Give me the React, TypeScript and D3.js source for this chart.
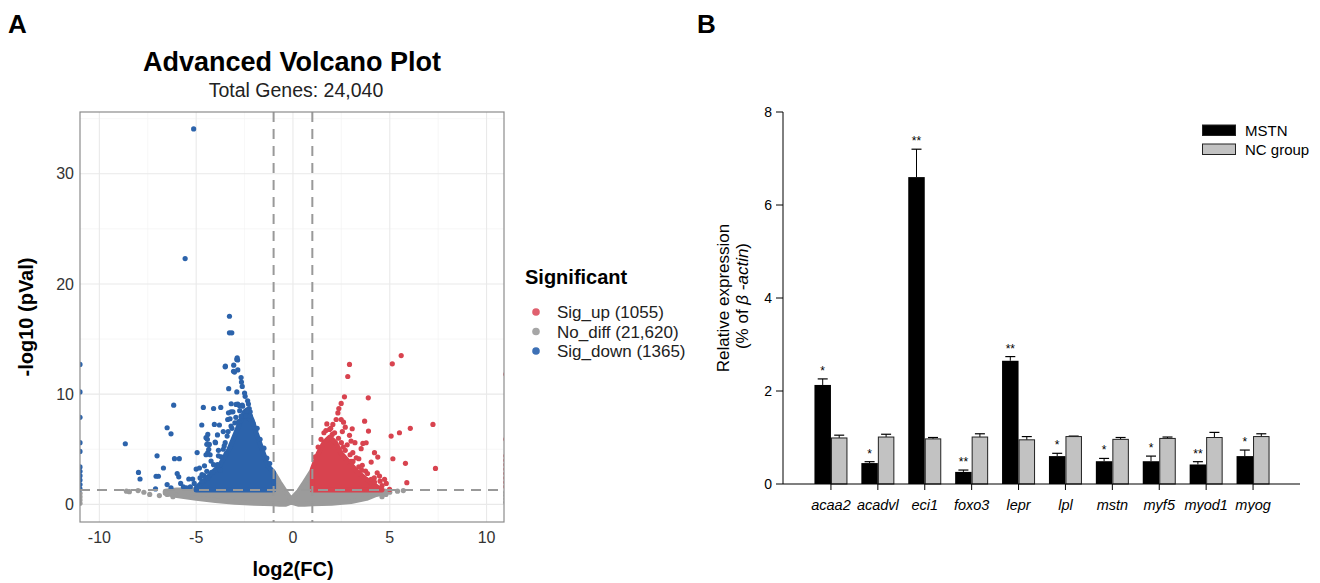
import React, { useRef, useEffect } from "react";
import * as d3 from "d3";

const FONT = "'Liberation Sans', Arial, Helvetica, sans-serif";

// ---------- panel A: volcano ----------
const volcanoXTicks = [-10, -5, 0, 5, 10];
const volcanoXMinor = [-7.5, -2.5, 2.5, 7.5];
const volcanoYTicks = [0, 10, 20, 30];
const volcanoYMinor = [5, 15, 25, 35];
const fcCut = 1;
const pCut = 1.3;
const legendLabels = ["Sig_up (1055)", "No_diff (21,620)", "Sig_down (1365)"];

// dense cores: x, lower, upper (-log10 p)
const grayBandX = [-6.6, -6.0, -5.0, -4.0, -3.0, -2.0, -1.0, -1.0, -0.7, -0.4, -0.1, 0.3, 0.6, 1.0, 1.0, 2.0, 3.0, 3.8, 4.3, 4.8];
const grayBandLow = [1.0, 0.8, 0.55, 0.35, 0.2, 0.1, 0.05, 0.05, 0.0, 0.0, 0.2, 0.0, 0.0, 0.05, 0.05, 0.1, 0.25, 0.55, 0.9, 1.1];
const grayBandHigh = [1.2, 1.3, 1.3, 1.3, 1.3, 1.3, 1.3, 2.9, 2.0, 1.2, 0.45, 1.2, 2.0, 3.1, 1.3, 1.3, 1.3, 1.3, 1.3, 1.2];

const downCoreX = [-5.0, -4.5, -3.8, -3.3, -2.95, -2.7, -2.5, -2.35, -2.1, -1.9, -1.6, -1.3, -1.0];
const downCoreHigh = [1.5, 2.3, 3.5, 5.0, 6.5, 7.6, 8.4, 8.6, 7.6, 6.5, 5.0, 3.5, 2.9];

const upCoreX = [1.0, 1.3, 1.6, 1.9, 2.2, 2.5, 2.9, 3.3, 3.7, 4.1, 4.4, 4.6];
const upCoreHigh = [3.2, 4.6, 5.6, 6.1, 5.6, 4.6, 3.8, 3.0, 2.4, 1.9, 1.5, 1.3];

const sigDownPoints: [number, number][] = [
  [-5.13, 34.06], [-5.57, 22.3], [-3.28, 17.07], [-3.28, 15.56], [-3.16, 15.56],
  [-2.88, 13.3], [-2.86, 13.1], [-3.49, 12.54], [-3.06, 12.63], [-3.07, 12.08],
  [-2.85, 12.2], [-2.68, 11.5], [-2.66, 11.1], [-2.62, 10.7], [-3.32, 10.5],
  [-2.9, 10.2], [-2.5, 10.1], [-2.47, 9.8], [-6.16, 9.0], [-4.63, 8.8],
  [-4.1, 8.7], [-3.73, 8.8], [-2.85, 9.1], [-2.62, 9.0], [-2.34, 9.4],
  [-2.3, 9.1], [-2.26, 8.7], [-2.21, 8.4], [-3.2, 8.4], [-3.1, 8.4],
  [-2.68, 8.0], [-6.5, 6.95], [-6.3, 6.4], [-8.66, 5.5], [-4.71, 7.2],
  [-4.06, 7.25], [-3.8, 7.2], [-3.37, 7.7], [-3.33, 8.31], [-3.25, 7.77],
  [-4.49, 6.05], [-4.42, 5.9], [-4.45, 5.45], [-4.02, 5.65], [-4.95, 4.7],
  [-4.49, 4.5], [-4.28, 4.5], [-7.98, 2.9], [-7.9, 2.3], [-7.02, 4.4],
  [-6.69, 3.3], [-7.07, 2.55], [-6.95, 2.55], [-6.12, 4.15], [-5.87, 4.15],
  [-7.1, 1.4], [-5.98, 2.8], [-5.9, 2.5], [-5.8, 1.9], [-5.66, 1.6],
  [-5.38, 2.3], [-5.18, 2.3], [-5.0, 3.2], [-4.83, 3.3], [-4.57, 3.5],
  [-4.0, 5.59], [-4.23, 3.93], [-4.4, 4.69], [-4.35, 4.99], [-4.32, 5.44],
  [-4.4, 6.35], [-3.5, 12.48], [-3.02, 12.0], [-2.9, 13.15], [-3.19, 9.13],
  [-2.94, 9.07], [-2.77, 8.97], [-2.39, 8.46], [-2.42, 8.0], [-2.25, 7.7],
  [-5.3, 1.6], [-5.1, 1.9], [-4.9, 1.5], [-4.7, 2.1], [-4.6, 2.6],
  [-4.8, 2.4], [-5.5, 1.5], [-6.3, 1.5], [-6.5, 1.8], [-3.9, 3.6],
  [-3.7, 4.3], [-3.6, 5.0], [-3.5, 5.6], [-3.4, 6.2], [-3.6, 6.6],
  [-3.9, 6.3], [-3.2, 7.1], [-3.0, 7.4], [-2.8, 7.5], [-4.2, 2.9],
  [-4.4, 2.4], [-3.85, 4.9], [-3.45, 4.6], [-3.75, 3.1],
  [-2.6, 8.9], [-2.75, 8.5], [-2.95, 7.9], [-3.15, 6.9], [-3.35, 6.6],
  [-3.55, 5.3], [-3.85, 4.4], [-4.1, 3.6], [-4.45, 3.0], [-4.7, 2.7],
  [-2.2, 8.0], [-2.05, 7.3], [-1.85, 6.9], [-1.7, 5.9], [-1.5, 5.1],
  [-1.35, 4.2], [-1.2, 3.7],
  [-11, 12.7], [-11, 10.2], [-11, 7.9], [-11, 5.6], [-11, 4.8],
  [-11, 3.4], [-11, 3.0], [-11, 2.6], [-11, 2.2], [-11, 1.8], [-11, 1.4],
];

const sigUpPoints: [number, number][] = [
  [2.92, 12.7], [2.83, 11.6], [5.13, 12.75], [5.59, 13.5], [2.66, 9.76],
  [3.89, 9.67], [2.49, 9.16], [2.37, 8.7], [2.32, 8.3], [3.7, 7.55],
  [3.9, 6.65], [6.06, 6.9], [7.23, 7.25], [5.5, 6.5], [5.07, 6.2],
  [3.06, 6.86], [2.92, 6.26], [3.0, 5.74], [3.61, 5.53], [4.21, 4.69],
  [4.38, 4.29], [3.4, 4.14], [5.16, 4.14], [4.04, 3.84], [3.58, 3.54],
  [3.75, 3.02], [5.81, 3.72], [7.36, 3.26], [4.35, 2.87], [5.88, 1.97],
  [4.99, 1.36], [4.04, 2.27], [4.21, 2.02], [4.47, 2.57], [4.73, 2.27],
  [4.82, 1.9], [2.23, 7.7], [2.06, 7.25], [1.89, 6.8], [2.03, 6.35],
  [2.49, 7.7], [2.61, 7.46], [3.09, 4.69], [3.27, 4.23], [3.78, 5.59],
  [3.52, 5.05], [2.7, 7.0], [2.55, 6.6], [2.8, 5.4], [3.2, 5.6],
  [2.6, 5.2], [3.0, 3.9], [3.4, 3.4], [1.75, 7.3], [1.6, 6.5],
  [1.15, 4.3], [1.3, 5.2], [1.45, 5.9], [1.7, 6.7], [1.95, 6.9],
  [2.15, 6.5], [2.35, 6.0], [2.5, 5.6], [2.7, 4.9], [2.95, 4.5],
  [3.1, 3.9], [3.55, 3.1], [3.85, 2.8], [4.2, 2.4], [4.5, 2.1], [4.6, 1.7],
  [11, 11.8], [11, 5.9], [11, 4.4], [11, 4.0], [11, 3.6],
  [11, 3.2], [11, 2.8], [11, 2.4], [11, 2.0], [11, 1.6],
];

const noDiffPoints: [number, number][] = [
  [-8.6, 1.2], [-8.45, 1.15], [-7.4, 0.9], [-7.7, 1.1], [-6.9, 0.8],
  [-6.5, 0.9], [-6.2, 0.7], [-8.0, 1.25], [5.0, 1.1], [5.4, 1.2],
  [4.8, 0.9], [5.7, 1.25], [4.6, 0.7],
  [-11, 1.0], [-11, 0.7], [-11, 0.4], [-11, 0.1],
  [11, 1.1], [11, 0.8], [11, 0.5], [11, 0.2],
];

// ---------- panel B: qPCR bars ----------
const genes = ["acaa2", "acadvl", "eci1", "foxo3", "lepr", "lpl", "mstn", "myf5", "myod1", "myog"];
const mstnMean = [2.13, 0.45, 6.6, 0.26, 2.65, 0.6, 0.49, 0.49, 0.42, 0.6];
const mstnErr = [0.13, 0.03, 0.6, 0.04, 0.09, 0.06, 0.06, 0.11, 0.06, 0.13];
const ncMean = [0.99, 1.01, 0.97, 1.01, 0.95, 1.02, 0.96, 0.98, 1.0, 1.02];
const ncErr = [0.06, 0.06, 0.03, 0.07, 0.07, 0.01, 0.04, 0.03, 0.11, 0.06];
const signif = ["*", "*", "**", "**", "**", "*", "*", "*", "**", "*"];
const barYTicks = [0, 2, 4, 6, 8];
const barLegend = ["MSTN", "NC group"];

const RED = "#d8434f";
const BLUE = "#2c63ab";
const GRAY = "#9b9b9b";

export default function App() {
  const ref = useRef<SVGSVGElement>(null);

  useEffect(() => {
    const svg = d3.select(ref.current);
    svg.selectAll("*").remove();
    svg.style("font-family", FONT);

    // ===== panel A =====
    const L = 80, R = 504, T = 112, B = 522;
    const x = d3.scaleLinear().domain([-11, 10.9]).range([L, R]);
    const y = d3.scaleLinear().domain([-1.6, 35.6]).range([B, T]);

    svg.append("text").attr("x", 8).attr("y", 33).attr("font-size", 26)
      .attr("font-weight", "bold").text("A");
    svg.append("text").attr("x", 292).attr("y", 71).attr("text-anchor", "middle")
      .attr("font-size", 27).attr("font-weight", "bold").text("Advanced Volcano Plot");
    svg.append("text").attr("x", 296).attr("y", 97).attr("text-anchor", "middle")
      .attr("font-size", 19.5).attr("fill", "#222").text("Total Genes: 24,040");

    const a = svg.append("g");
    a.append("rect").attr("x", L).attr("y", T).attr("width", R - L).attr("height", B - T)
      .attr("fill", "#fff");

    // grid
    a.selectAll(".gxm").data(volcanoXMinor).enter().append("line")
      .attr("x1", (d) => x(d)).attr("x2", (d) => x(d)).attr("y1", T).attr("y2", B)
      .attr("stroke", "#f3f3f3").attr("stroke-width", 0.7);
    a.selectAll(".gym").data(volcanoYMinor).enter().append("line")
      .attr("y1", (d) => y(d)).attr("y2", (d) => y(d)).attr("x1", L).attr("x2", R)
      .attr("stroke", "#f3f3f3").attr("stroke-width", 0.7);
    a.selectAll(".gx").data(volcanoXTicks).enter().append("line")
      .attr("x1", (d) => x(d)).attr("x2", (d) => x(d)).attr("y1", T).attr("y2", B)
      .attr("stroke", "#e9e9e9").attr("stroke-width", 1.1);
    a.selectAll(".gy").data(volcanoYTicks).enter().append("line")
      .attr("y1", (d) => y(d)).attr("y2", (d) => y(d)).attr("x1", L).attr("x2", R)
      .attr("stroke", "#e9e9e9").attr("stroke-width", 1.1);

    svg.append("clipPath").attr("id", "panelA").append("rect")
      .attr("x", L).attr("y", T).attr("width", R - L).attr("height", B - T);
    const pts = a.append("g").attr("clip-path", "url(#panelA)");

    const band = d3.area<number>()
      .x((i) => x(grayBandX[i]))
      .y0((i) => y(grayBandLow[i]))
      .y1((i) => y(grayBandHigh[i]));
    pts.append("path").attr("d", band(d3.range(grayBandX.length)))
      .attr("fill", GRAY).attr("stroke", GRAY).attr("stroke-width", 5)
      .attr("stroke-linejoin", "round");
    pts.selectAll(".nd").data(noDiffPoints).enter().append("circle")
      .attr("cx", (d) => x(d[0])).attr("cy", (d) => y(d[1])).attr("r", 2.6).attr("fill", GRAY);

    const downArea = d3.area<number>()
      .x((i) => x(downCoreX[i])).y0(y(pCut)).y1((i) => y(downCoreHigh[i]));
    pts.append("path").attr("d", downArea(d3.range(downCoreX.length)))
      .attr("fill", BLUE).attr("stroke", BLUE).attr("stroke-width", 5)
      .attr("stroke-linejoin", "round");
    pts.selectAll(".dn").data(sigDownPoints).enter().append("circle")
      .attr("cx", (d) => x(d[0])).attr("cy", (d) => y(d[1])).attr("r", 2.6).attr("fill", BLUE);

    const upArea = d3.area<number>()
      .x((i) => x(upCoreX[i])).y0(y(pCut)).y1((i) => y(upCoreHigh[i]));
    pts.append("path").attr("d", upArea(d3.range(upCoreX.length)))
      .attr("fill", RED).attr("stroke", RED).attr("stroke-width", 5)
      .attr("stroke-linejoin", "round");
    pts.selectAll(".up").data(sigUpPoints).enter().append("circle")
      .attr("cx", (d) => x(d[0])).attr("cy", (d) => y(d[1])).attr("r", 2.6).attr("fill", RED);

    // threshold lines
    [-fcCut, fcCut].forEach((v) => {
      a.append("line").attr("x1", x(v)).attr("x2", x(v)).attr("y1", T).attr("y2", B)
        .attr("stroke", "#999").attr("stroke-width", 2).attr("stroke-dasharray", "10,7");
    });
    a.append("line").attr("x1", L).attr("x2", R).attr("y1", y(pCut)).attr("y2", y(pCut))
      .attr("stroke", "#999").attr("stroke-width", 2).attr("stroke-dasharray", "10,7");

    a.append("rect").attr("x", L).attr("y", T).attr("width", R - L).attr("height", B - T)
      .attr("fill", "none").attr("stroke", "#8c8c8c").attr("stroke-width", 1.2);

    a.selectAll(".xl").data(volcanoXTicks).enter().append("text")
      .attr("x", (d) => x(d)).attr("y", 543).attr("text-anchor", "middle")
      .attr("font-size", 16).attr("fill", "#333").text((d) => String(d));
    a.selectAll(".yl").data(volcanoYTicks).enter().append("text")
      .attr("x", 74).attr("y", (d) => y(d)).attr("dy", "0.36em").attr("text-anchor", "end")
      .attr("font-size", 16).attr("fill", "#333").text((d) => String(d));

    svg.append("text").attr("x", 293).attr("y", 576).attr("text-anchor", "middle")
      .attr("font-size", 20).attr("font-weight", "bold").text("log2(FC)");
    svg.append("text").attr("transform", `translate(33,${(T + B) / 2}) rotate(-90)`)
      .attr("text-anchor", "middle").attr("font-size", 20).attr("font-weight", "bold")
      .text("-log10 (pVal)");

    // legend
    svg.append("text").attr("x", 525).attr("y", 284).attr("font-size", 20)
      .attr("font-weight", "bold").text("Significant");
    const legColors = ["#e0606e", "#a6a6a6", "#3d70b5"];
    legendLabels.forEach((lab, i) => {
      const cy = 312 + i * 19.5;
      svg.append("circle").attr("cx", 536).attr("cy", cy).attr("r", 3.8).attr("fill", legColors[i]);
      svg.append("text").attr("x", 557).attr("y", cy).attr("dy", "0.36em")
        .attr("font-size", 17).attr("fill", "#222").text(lab);
    });

    // ===== panel B =====
    const yb = d3.scaleLinear().domain([0, 8]).range([484, 112]);
    const xb = d3.scalePoint<string>().domain(genes).range([807.5, 1276.5]).padding(0.5);
    const bw = 16.5;
    const b = svg.append("g");

    svg.append("text").attr("x", 697).attr("y", 33).attr("font-size", 26)
      .attr("font-weight", "bold").text("B");

    b.append("line").attr("x1", 783).attr("x2", 783).attr("y1", yb(8)).attr("y2", yb(0))
      .attr("stroke", "#000").attr("stroke-width", 1);
    b.selectAll(".yt").data(barYTicks).enter().append("line")
      .attr("x1", 776).attr("x2", 783).attr("y1", (d) => yb(d)).attr("y2", (d) => yb(d))
      .attr("stroke", "#000");
    b.selectAll(".ytl").data(barYTicks).enter().append("text")
      .attr("x", 772).attr("y", (d) => yb(d)).attr("dy", "0.36em").attr("text-anchor", "end")
      .attr("font-size", 14).text((d) => String(d));

    genes.forEach((g, i) => {
      const c = xb(g) as number;
      const m = mstnMean[i], n = ncMean[i];
      // MSTN
      b.append("line").attr("x1", c - bw / 2).attr("x2", c - bw / 2)
        .attr("y1", yb(m)).attr("y2", yb(m + mstnErr[i])).attr("stroke", "#000");
      b.append("line").attr("x1", c - bw / 2 - 5).attr("x2", c - bw / 2 + 5)
        .attr("y1", yb(m + mstnErr[i])).attr("y2", yb(m + mstnErr[i])).attr("stroke", "#000")
        .attr("stroke-width", 1.2);
      b.append("rect").attr("x", c - bw).attr("y", yb(m)).attr("width", bw)
        .attr("height", yb(0) - yb(m)).attr("fill", "#000");
      // NC
      b.append("line").attr("x1", c + bw / 2).attr("x2", c + bw / 2)
        .attr("y1", yb(n)).attr("y2", yb(n + ncErr[i])).attr("stroke", "#000");
      b.append("line").attr("x1", c + bw / 2 - 5).attr("x2", c + bw / 2 + 5)
        .attr("y1", yb(n + ncErr[i])).attr("y2", yb(n + ncErr[i])).attr("stroke", "#000")
        .attr("stroke-width", 1.2);
      b.append("rect").attr("x", c + 0.5).attr("y", yb(n)).attr("width", bw - 1)
        .attr("height", yb(0) - yb(n)).attr("fill", "#c2c2c2").attr("stroke", "#222")
        .attr("stroke-width", 1);
      // significance
      b.append("text").attr("x", c - bw / 2).attr("y", yb(m + mstnErr[i]) - 4)
        .attr("text-anchor", "middle").attr("font-size", 12).text(signif[i]);
      // x tick + label
      b.append("line").attr("x1", c).attr("x2", c).attr("y1", 484).attr("y2", 490)
        .attr("stroke", "#000");
      b.append("text").attr("x", c).attr("y", 510).attr("text-anchor", "middle")
        .attr("font-size", 14.5).attr("font-style", "italic").text(g);
    });

    b.append("line").attr("x1", 783).attr("x2", 1300).attr("y1", 484).attr("y2", 484)
      .attr("stroke", "#000").attr("stroke-width", 1.2);

    // legend
    const legFill = ["#000", "#c2c2c2"];
    barLegend.forEach((lab, i) => {
      const ly = 125 + i * 19;
      b.append("rect").attr("x", 1202.5).attr("y", ly).attr("width", 33).attr("height", 10.5)
        .attr("fill", legFill[i]).attr("stroke", "#222");
      b.append("text").attr("x", 1245).attr("y", ly + 5.5).attr("dy", "0.36em")
        .attr("font-size", 15).text(lab);
    });

    // y title
    b.append("text").attr("transform", "translate(729,298) rotate(-90)")
      .attr("text-anchor", "middle").attr("font-size", 17).text("Relative expression");
    const l2 = b.append("text").attr("transform", "translate(748,296) rotate(-90)")
      .attr("text-anchor", "middle").attr("font-size", 17);
    l2.append("tspan").text("(% of ");
    l2.append("tspan").attr("font-style", "italic").text("β -actin");
    l2.append("tspan").text(")");

    return () => {
      svg.selectAll("*").remove();
    };
  }, []);

  return (
    <svg
      ref={ref}
      width={1320}
      height={583}
      style={{ position: "absolute", left: 0, top: 0, background: "#fff" }}
    />
  );
}
